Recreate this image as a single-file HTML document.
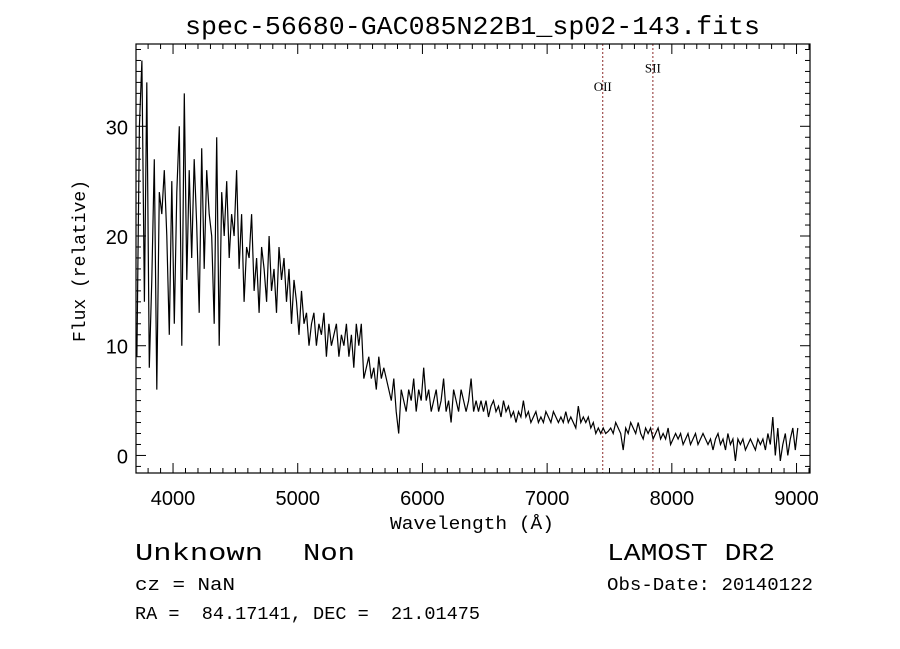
<!DOCTYPE html>
<html><head><meta charset="utf-8"><style>
html,body{margin:0;padding:0;background:#fff;}
svg{display:block;}
text{font-family:"Liberation Mono","DejaVu Sans Mono",monospace;fill:#000;white-space:pre;}
</style></head><body>
<svg id="chart" width="900" height="649" viewBox="0 0 900 649" xmlns="http://www.w3.org/2000/svg" xml:space="preserve">
<rect x="0" y="0" width="900" height="649" fill="#fff"/>
<text x="185" y="34" font-size="26" textLength="575" lengthAdjust="spacingAndGlyphs">spec-56680-GAC085N22B1_sp02-143.fits</text>
<g id="axes"></g>
<g id="lines"></g>
<path id="spec" fill="none" stroke="#000" stroke-width="1.2"/>
<rect x="136" y="44" width="674" height="429" fill="none" stroke="#000" stroke-width="1.2"/>
<text x="390" y="529" font-size="18" textLength="164" lengthAdjust="spacingAndGlyphs">Wavelength (Å)</text>
<text transform="translate(85,342) rotate(-90)" font-size="18" textLength="162" lengthAdjust="spacingAndGlyphs">Flux (relative)</text>
<text x="135" y="560" font-size="24" textLength="128" lengthAdjust="spacingAndGlyphs">Unknown</text>
<text x="303" y="560" font-size="24" textLength="52" lengthAdjust="spacingAndGlyphs">Non</text>
<text x="607" y="560" font-size="24" textLength="168" lengthAdjust="spacingAndGlyphs">LAMOST DR2</text>
<text x="135" y="590" font-size="18" textLength="100" lengthAdjust="spacingAndGlyphs">cz = NaN</text>
<text x="607" y="590" font-size="18" textLength="206" lengthAdjust="spacingAndGlyphs">Obs-Date: 20140122</text>
<text x="135" y="619" font-size="18" textLength="345" lengthAdjust="spacingAndGlyphs">RA =  84.17141, DEC =  21.01475</text>
</svg>
<script>
const waveStart = 3710;
const waveStep = 20;
const flux = [
9,30,36,14,34,8,16,27,6,24,
22,26,20,11,25,12,24,30,10,33,
16,26,18,27,21,13,28,17,26,22,
20,12,29,10,24,20,25,18,22,20,
26,17,22,14,19,18,22,15,18,13,
19,17,14,20,15,17,13,19,16,18,
14,17,12,16,14,11,15,12,13,10,
12,13,10,12,11,13,9,12,10,11,
12,9,11,10,12,9,11,8,12,10,
12,7,8,9,7,8,6,9,7,8,
7,6,5,7,4,2,6,5,4,6,
5,7,4,6,5,8,5,6,4,5,
6,4,5,7,4,5,3,6,5,4,
6,5,4,5,7,4,5,4,5,4,
5,3.5,4.5,5,4,4.5,3.5,5,4,4.5,
3.5,4,3,4,3.5,5,3.5,4,3,3.5,
4,3,3.5,3,4,3.5,3,4,3.5,3,
3.5,3,4,3,3.5,3,2.5,4.5,3,3.5,
3,3.5,2.5,3,2,2.5,2,2.5,2,2.2,
2.5,2,3,2.5,2,0.5,2.5,2,3,2.5,
2,3,2,1.5,2.5,2,2.5,1.5,2,2.5,
1.5,2,1.5,2.5,1,1.5,2,1.5,2,1,
1.5,2,1,1.5,2,1,1.5,2,1.5,1,
1.5,0.5,1.5,2,1,1.5,0.5,2,1,1.5,
-0.5,1.5,1,1.5,0.5,1,1.5,1,0.5,1.5,
1,1.5,0.5,2,1,3.5,0,2.5,-0.5,1,
2,0,1.5,2.5,0.5,2.5
];
const xTicks = [4000,5000,6000,7000,8000,9000];
const yTicks = [0,10,20,30];
const lineNames = ["OII","SII"];
const lineWaves = [7446,7848];
const lineLabelFlux = [33.2,34.9];

const X0=136, X1=810, Y0=44, Y1=473;
const xMin=3703, xMax=9108, yMin=-1.6, yMax=37.5;
function sx(w){return X0+(w-xMin)/(xMax-xMin)*(X1-X0);}
function sy(v){return Y1-(v-yMin)/(yMax-yMin)*(Y1-Y0);}
const NS="http://www.w3.org/2000/svg";
const axes=document.getElementById('axes');
function mk(tag,attrs,parent){const e=document.createElementNS(NS,tag);for(const k in attrs)e.setAttribute(k,attrs[k]);parent.appendChild(e);return e;}

for(let w=3800; w<=xMax; w+=100){
  const major = w%1000===0;
  const len = major?10:5;
  const x=sx(w);
  const t1=mk('line',{x1:x,x2:x,y1:Y1,y2:Y1-len,stroke:'#000','stroke-width':1},axes);
  
  
  const t2=mk('line',{x1:x,x2:x,y1:Y0,y2:Y0+len,stroke:'#000','stroke-width':1},axes);
  
  
}
xTicks.forEach(w=>{
  const t=mk('text',{x:sx(w),y:505,'font-size':20,'text-anchor':'middle'},axes);
  t.style.fontFamily='"Liberation Sans",sans-serif';
  t.textContent=w;
  
  
});
for(let v=-1; v<=37; v+=1){
  const major=v%10===0;
  const len=major?10:5;
  const y=sy(v);
  const t1=mk('line',{x1:X0,x2:X0+len,y1:y,y2:y,stroke:'#000','stroke-width':1},axes);
  
  
  const t2=mk('line',{x1:X1,x2:X1-len,y1:y,y2:y,stroke:'#000','stroke-width':1},axes);
  
  
}
yTicks.forEach(v=>{
  const t=mk('text',{x:128,y:sy(v)+8,'font-size':20,'text-anchor':'end'},axes);
  t.style.fontFamily='"Liberation Sans",sans-serif';
  t.textContent=v;
  
  
});
const lg=document.getElementById('lines');
lineWaves.forEach((w,i)=>{
  const l=mk('line',{x1:sx(w),x2:sx(w),y1:Y0,y2:Y1,stroke:'#8b2a2a','stroke-width':1,'stroke-dasharray':'2,2'},lg);
  
  
  const t=mk('text',{x:sx(w),y:sy(lineLabelFlux[i]),'font-size':13,'text-anchor':'middle'},lg);
  t.style.fontFamily='"Liberation Serif",serif';
  t.textContent=lineNames[i];
  
  
});
let d='';
flux.forEach((f,i)=>{const w=waveStart+i*waveStep; d+=(i?'L':'M')+sx(w).toFixed(1)+','+sy(f).toFixed(1);});
document.getElementById('spec').setAttribute('d',d);
</script>
</body></html>
